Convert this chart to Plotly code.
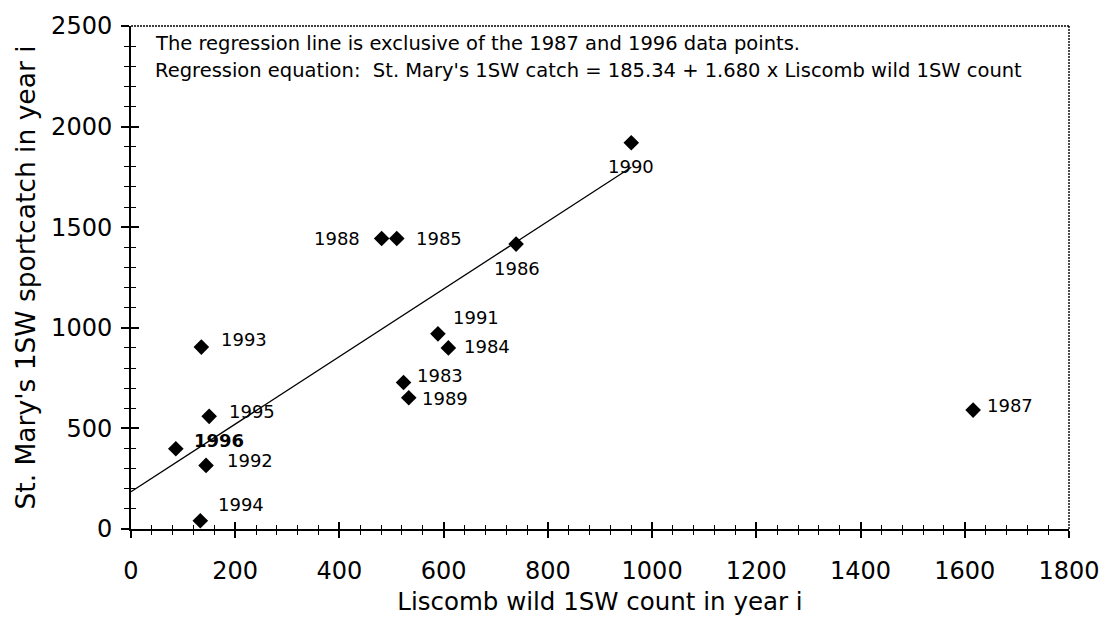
import plotly.graph_objects as go

# Liscomb wild 1SW counts vs St. Mary's 1SW sportcatch, by year
years = [1983, 1984, 1985, 1986, 1987, 1988, 1989, 1990, 1991, 1992, 1993, 1994, 1995, 1996]
liscomb_count = [523, 609, 510, 739, 1616, 481, 533, 960, 589, 144, 135, 133, 150, 86]
stmarys_catch = [728, 900, 1444, 1416, 591, 1444, 652, 1920, 970, 316, 904, 41, 560, 399]

# Regression (excluding 1987 and 1996)
reg_intercept = 185.34
reg_slope = 1.680
reg_excluded = [1987, 1996]

x_ticks = [0, 200, 400, 600, 800, 1000, 1200, 1400, 1600, 1800]
y_ticks = [0, 500, 1000, 1500, 2000, 2500]

note_lines = [
    "The regression line is exclusive of the 1987 and 1996 data points.",
    "Regression equation:\u00a0\u00a0St. Mary's 1SW catch = 185.34 + 1.680 x Liscomb wild 1SW count",
]

FONT = "DejaVu Sans"
INK = "black"

# label placement per year: (xanchor, xshift px, yshift px, bold)
label_place = {
    1983: ("left", 11, 7, False),
    1984: ("left", 14, 1, False),
    1985: ("left", 17, 0, False),
    1986: ("center", 1, -24, False),
    1987: ("left", 12, 5, False),
    1988: ("right", -20, 0, False),
    1989: ("left", 11, -1, False),
    1990: ("center", 0, -24, False),
    1991: ("left", 13, 16, False),
    1992: ("left", 19, 5, False),
    1993: ("left", 18, 8, False),
    1994: ("left", 16, 16, False),
    1995: ("left", 18, 5, False),
    1996: ("left", 16, 8, True),
}

fig = go.Figure()

# fitted line from the y-axis out to the largest count used in the fit
fit_counts = [c for yr, c in zip(years, liscomb_count) if yr not in reg_excluded]
reg_x = [0, max(fit_counts)]
reg_y = [reg_intercept + reg_slope * v for v in reg_x]
fig.add_trace(go.Scatter(
    x=reg_x, y=reg_y, mode="lines",
    line=dict(color=INK, width=1.3),
    xaxis="x2", yaxis="y2", hoverinfo="skip", showlegend=False,
))

fig.add_trace(go.Scatter(
    x=liscomb_count, y=stmarys_catch, mode="markers",
    marker=dict(symbol="diamond", size=12, color=INK, line=dict(width=0)),
    showlegend=False,
))

for yr, xv, yv in zip(years, liscomb_count, stmarys_catch):
    anchor, dx, dy, bold = label_place[yr]
    txt = f"<b>{yr}</b>" if bold else str(yr)
    fig.add_annotation(
        x=xv, y=yv, text=txt, showarrow=False,
        xanchor=anchor, yanchor="middle", xshift=dx, yshift=dy,
        font=dict(family=FONT, size=18, color=INK),
    )

for i, line in enumerate(note_lines):
    fig.add_annotation(
        xref="paper", yref="paper", x=0, y=1, xanchor="left", yanchor="middle",
        xshift=22, yshift=-17 - 27 * i, text=line, showarrow=False,
        font=dict(family=FONT, size=19.5, color=INK),
    )

# top and right frame edges
frame = dict(color=INK, width=1.4, dash="2px,1px")
fig.add_shape(type="line", xref="paper", yref="paper", x0=0, x1=1, y0=1, y1=1, line=frame)
fig.add_shape(type="line", xref="paper", yref="paper", x0=1, x1=1, y0=0, y1=1, line=frame)

axis_common = dict(showgrid=False, zeroline=False, color=INK)

fig.update_layout(
    width=1112, height=632,
    margin=dict(l=131, r=36, t=23, b=103),
    paper_bgcolor="white", plot_bgcolor="white",
    font=dict(family=FONT, color=INK),
    xaxis=dict(
        range=[0, 1800], tickvals=x_ticks, ticktext=[str(v) for v in x_ticks],
        showline=True, linecolor=INK, linewidth=2,
        ticks="outside", ticklen=7, tickwidth=1.5, tickcolor=INK,
        minor=dict(ticks="outside", ticklen=4, tickwidth=1.2, dtick=40, tick0=0, tickcolor=INK),
        tickfont=dict(family=FONT, size=24), ticklabelstandoff=12,
        title=dict(text="Liscomb wild 1SW count in year i", font=dict(family=FONT, size=24.5), standoff=9),
        **axis_common,
    ),
    yaxis=dict(
        range=[0, 2500], tickvals=y_ticks, ticktext=[str(v) for v in y_ticks],
        showline=True, linecolor=INK, linewidth=2,
        ticks="outside", ticklen=8, tickwidth=1.5, tickcolor=INK,
        minor=dict(ticks="outside", ticklen=5, tickwidth=1.2, dtick=100, tick0=0, tickcolor=INK),
        tickfont=dict(family=FONT, size=24), ticklabelstandoff=4,
        title=dict(text="St. Mary's 1SW sportcatch in year i", font=dict(family=FONT, size=26.5), standoff=8),
        **axis_common,
    ),
    xaxis2=dict(
        overlaying="x", matches="x", anchor="y", range=[0, 1800], tickvals=x_ticks,
        showticklabels=False, ticks="inside", ticklen=7, tickwidth=1.5, tickcolor=INK,
        minor=dict(ticks="inside", ticklen=4, tickwidth=1.2, dtick=40, tick0=0, tickcolor=INK),
        showline=False, **axis_common,
    ),
    yaxis2=dict(
        overlaying="y", matches="y", anchor="x", range=[0, 2500], tickvals=y_ticks,
        showticklabels=False, ticks="inside", ticklen=8, tickwidth=1.5, tickcolor=INK,
        minor=dict(ticks="inside", ticklen=5, tickwidth=1.2, dtick=100, tick0=0, tickcolor=INK),
        showline=False, **axis_common,
    ),
)

fig.write_html("out.html")
